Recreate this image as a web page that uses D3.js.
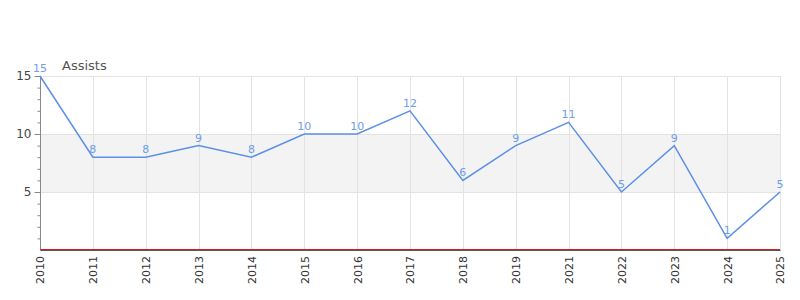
<!DOCTYPE html>
<html>
<head>
<meta charset="utf-8">
<script src="https://cdn.jsdelivr.net/npm/d3@7"></script>
<style>
  body { margin: 0; background: #fff; }
  text { font-family: "DejaVu Sans", sans-serif; }
</style>
</head>
<body>
<div id="chart"></div>
<script>
// data
var seasons = ["2010", "2011", "2012", "2013", "2014", "2015", "2016", "2017",
               "2018", "2019", "2021", "2022", "2023", "2024", "2025"];
var assists = [15, 8, 8, 9, 8, 10, 10, 12, 6, 9, 11, 5, 9, 1, 5];
var yTicks = [5, 10, 15];
var band = [5, 10];

function init() {
    var w = 800, h = 300;
    var left = 40, right = 780, top = 76, bottom = 250;

    var svg = d3.select("#chart").append("svg")
        .attr("width", w)
        .attr("height", h);

    var xScale = d3.scalePoint()
        .domain(seasons)
        .range([left, right]);

    var yScale = d3.scaleLinear()
        .domain([0, 15])
        .range([bottom, top]);

    // shaded band between 5 and 10
    svg.append("rect")
        .attr("x", left)
        .attr("y", yScale(band[1]))
        .attr("width", right - left)
        .attr("height", yScale(band[0]) - yScale(band[1]))
        .attr("fill", "#f3f3f3");

    // vertical gridlines
    svg.append("g")
        .selectAll("line")
        .data(seasons)
        .enter()
        .append("line")
        .attr("x1", d => Math.round(xScale(d)) + 0.5)
        .attr("x2", d => Math.round(xScale(d)) + 0.5)
        .attr("y1", top)
        .attr("y2", bottom)
        .attr("stroke", "#e3e3e3");

    // horizontal gridlines
    svg.append("g")
        .selectAll("line")
        .data(yTicks)
        .enter()
        .append("line")
        .attr("x1", left)
        .attr("x2", right)
        .attr("y1", d => Math.round(yScale(d)) + 0.5)
        .attr("y2", d => Math.round(yScale(d)) + 0.5)
        .attr("stroke", "#e3e3e3");

    // y axis with minor ticks
    var yMinor = d3.axisLeft(yScale)
        .tickValues(d3.range(1, 16))
        .tickSize(3)
        .tickFormat("");
    svg.append("g")
        .attr("transform", "translate(" + (left + 0.5) + ",0)")
        .call(yMinor)
        .call(g => g.select(".domain").remove())
        .selectAll("line").attr("stroke", "#888");

    var yAxis = d3.axisLeft(yScale)
        .tickValues(yTicks)
        .tickSize(6)
        .tickPadding(3);
    var gy = svg.append("g")
        .attr("transform", "translate(" + (left + 0.5) + ",0)")
        .call(yAxis);
    gy.select(".domain").attr("stroke", "#888").attr("d", "M0," + top + "V" + bottom);
    gy.selectAll("line").attr("stroke", "#888");
    gy.selectAll("text")
        .style("font-size", "12px")
        .attr("fill", "#444");

    // x axis
    var xAxis = d3.axisBottom(xScale).tickSize(0).tickPadding(6);
    var gx = svg.append("g")
        .attr("transform", "translate(0," + bottom + ")")
        .call(xAxis);
    gx.select(".domain").attr("stroke", "#555");
    gx.selectAll("text")
        .attr("transform", "rotate(-90)")
        .attr("x", -6)
        .attr("y", 0)
        .attr("dy", "0.35em")
        .style("text-anchor", "end")
        .style("font-size", "11px")
        .attr("fill", "#333");

    // red baseline at zero
    svg.append("line")
        .attr("x1", left)
        .attr("x2", right)
        .attr("y1", yScale(0) - 0.5)
        .attr("y2", yScale(0) - 0.5)
        .attr("stroke", "#d62020")
        .attr("stroke-width", 1);

    // series line
    var line = d3.line()
        .x((d, i) => xScale(seasons[i]))
        .y(d => yScale(d));

    svg.append("path")
        .datum(assists)
        .attr("d", line)
        .attr("fill", "none")
        .attr("stroke", "#5b8fe8")
        .attr("stroke-width", 1.5);

    // value labels
    svg.append("g")
        .selectAll("text")
        .data(assists)
        .enter()
        .append("text")
        .attr("x", (d, i) => xScale(seasons[i]))
        .attr("y", d => yScale(d) - 4)
        .attr("text-anchor", "middle")
        .style("font-size", "11px")
        .attr("fill", "#6f9de8")
        .text(d => d);

    // series title
    svg.append("text")
        .attr("x", 62)
        .attr("y", 70)
        .style("font-size", "13px")
        .attr("fill", "#555")
        .text("Assists");
}

window.onload = init;
</script>
</body>
</html>
